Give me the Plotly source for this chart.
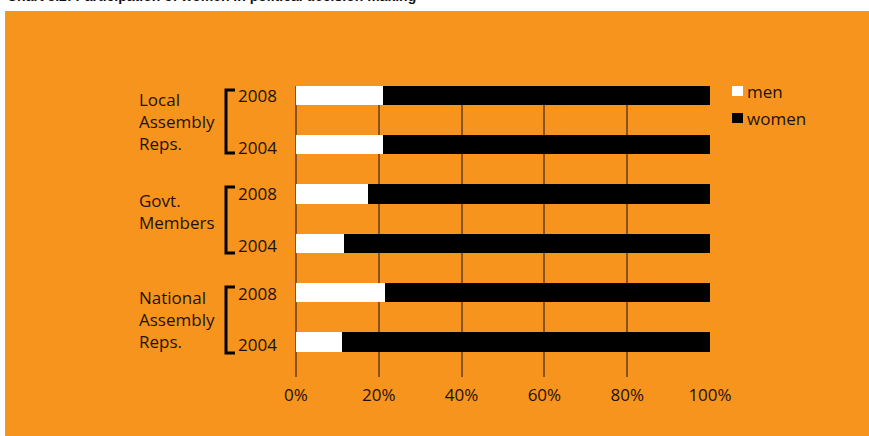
import plotly.graph_objects as go

# --- data -------------------------------------------------------------
groups = ["Local<br>Assembly<br>Reps.", "Govt.<br>Members", "National<br>Assembly<br>Reps."]
years = ["2008", "2004"]
rows = ["Local 2008", "Local 2004", "Govt 2008", "Govt 2004", "National 2008", "National 2004"]
men = [21, 21, 17.5, 11.5, 21.5, 11]
women = [79, 79, 82.5, 88.5, 78.5, 89]
x_ticks = [0, 20, 40, 60, 80, 100]
title_text = "Chart 3.2: Participation of women in political decision making"

# --- styling ----------------------------------------------------------
W, H = 869, 436
ML, MR, MT, MB = 296, 159, 86, 59
ORANGE = "#F7941E"
INK = "#1e1208"
GRID = "#8a5220"
FONT = "Open Sans, Noto Sans, sans-serif"


def px_x(px):
    return (px - ML) / (W - ML - MR)


def px_y(py):
    return (H - MB - py) / (H - MT - MB)


fig = go.Figure()
fig.add_trace(go.Bar(y=rows, x=men, orientation="h", name="men",
                     marker=dict(color="#ffffff", line=dict(width=0)),
                     width=0.39, showlegend=False))
fig.add_trace(go.Bar(y=rows, x=women, orientation="h", name="women",
                     marker=dict(color="#000000", line=dict(width=0)),
                     width=0.39, showlegend=False))

shapes = []
annotations = []

# white page strips around the orange panel
shapes.append(dict(type="rect", xref="paper", yref="paper", layer="above",
                   x0=px_x(0), x1=px_x(W), y0=px_y(11), y1=px_y(0),
                   fillcolor="#ffffff", line=dict(width=0)))
shapes.append(dict(type="rect", xref="paper", yref="paper", layer="above",
                   x0=px_x(0), x1=px_x(5), y0=px_y(H), y1=px_y(0),
                   fillcolor="#ffffff", line=dict(width=0)))

# heading at the top of the page, running off the upper edge
annotations.append(dict(text="<b>" + title_text + "</b>", xref="paper", yref="paper",
                        x=px_x(5), y=px_y(6), xanchor="left", yanchor="bottom",
                        showarrow=False, font=dict(family="Liberation Sans, Arial", size=14, color="#111")))

# group labels, brackets and year labels
group_label_y = [121, 211, 319]
bracket_spans = [(90, 153), (187, 253), (287, 353)]
year_y = [(95, 147), (193, 245), (293, 344)]
for g, ly, (top, bot), (y8, y4) in zip(groups, group_label_y, bracket_spans, year_y):
    annotations.append(dict(text=g, xref="paper", yref="paper", x=px_x(137), y=px_y(ly),
                            xanchor="left", yanchor="middle", align="left", showarrow=False,
                            font=dict(family=FONT, size=17, color=INK)))
    shapes.append(dict(type="path", xref="paper", yref="paper", layer="above",
                       path=f"M {px_x(235)},{px_y(top)} L {px_x(226)},{px_y(top)} "
                            f"L {px_x(226)},{px_y(bot)} L {px_x(235)},{px_y(bot)}",
                       line=dict(color="#000", width=3)))
    for yr, yy in zip(years, (y8, y4)):
        annotations.append(dict(text=yr, xref="paper", yref="paper", x=px_x(236), y=px_y(yy),
                                xanchor="left", yanchor="middle", showarrow=False,
                                font=dict(family=FONT, size=17, color=INK)))

# legend
for name, col, cy in (("men", "#ffffff", 91), ("women", "#000000", 118)):
    shapes.append(dict(type="rect", xref="paper", yref="paper", layer="above",
                       x0=px_x(732), x1=px_x(743), y0=px_y(cy + 5), y1=px_y(cy - 5),
                       fillcolor=col, line=dict(width=0)))
    annotations.append(dict(text=name, xref="paper", yref="paper", x=px_x(745), y=px_y(cy),
                            xanchor="left", yanchor="middle", showarrow=False,
                            font=dict(family=FONT, size=17, color=INK)))

fig.update_layout(
    width=W, height=H,
    margin=dict(l=ML, r=MR, t=MT, b=MB, pad=0),
    paper_bgcolor=ORANGE, plot_bgcolor=ORANGE,
    barmode="stack", bargap=0,
    shapes=shapes, annotations=annotations,
    font=dict(family=FONT, color=INK),
    xaxis=dict(range=[0, 100], tickvals=x_ticks, ticktext=[f"{v}%" for v in x_ticks],
               showgrid=True, gridcolor=GRID, gridwidth=1.5,
               zeroline=True, zerolinecolor=GRID, zerolinewidth=1.5,
               showline=False, ticks="", ticklabelstandoff=6,
               tickfont=dict(size=17, color=INK), fixedrange=True),
    yaxis=dict(categoryorder="array", categoryarray=rows, range=[5.71, -0.19],
               showticklabels=False, showgrid=False, zeroline=False, ticks="",
               fixedrange=True),
)

fig.write_html("out.html")
